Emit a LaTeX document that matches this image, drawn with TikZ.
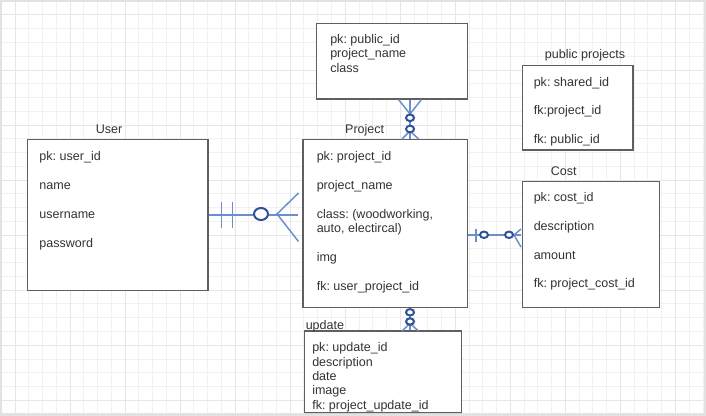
\documentclass[tikz,border=0pt]{standalone}
\usepackage{fontspec}
\setmainfont{Liberation Sans}
\usetikzlibrary{calc,fit,shadows}
\frenchspacing
\definecolor{txt}{HTML}{333333}
\definecolor{bord}{HTML}{5F5F5F}
\definecolor{lnblue}{HTML}{6C8ECD}
\definecolor{cblue}{HTML}{2F5296}
\definecolor{gminor}{HTML}{F1F1F1}
\definecolor{gmajor}{HTML}{E6E6E6}
\definecolor{framec}{HTML}{E2E2E2}
\tikzset{
  box/.style={draw=bord, line width=0.9pt, fill=white, inner sep=0pt,
    drop shadow={shadow xshift=0.6pt, shadow yshift=-0.6pt, opacity=0.15}},
  lbl/.style={font=\fontsize{9.4}{11}\selectfont, text=txt, inner sep=0pt, anchor=base west},
  ttl/.style={lbl, anchor=base},
  conn/.style={draw=lnblue, line width=1.1pt},
  zero/.style={draw=cblue, line width=1.5pt},
}
\begin{document}
\begin{tikzpicture}[x=0.75pt, y=-0.75pt]
\useasboundingbox (0,0) rectangle (706,416);
% background and frame
\fill[framec] (0,0) rectangle (706,416);
\fill[white] (2,2) rectangle (702.5,413);
\foreach \k in {0,...,50}{\draw[gminor, line width=0.75pt] ({15+13.76*\k},2) -- ({15+13.76*\k},413);}
\foreach \k in {0,...,28}{\draw[gminor, line width=0.75pt] (2,{15+13.76*\k}) -- (702.5,{15+13.76*\k});}
\foreach \k in {0,4,...,48}{\draw[gmajor, line width=0.75pt] ({15+13.76*\k},2) -- ({15+13.76*\k},413);}
\foreach \k in {0,4,...,28}{\draw[gmajor, line width=0.75pt] (2,{15+13.76*\k}) -- (702.5,{15+13.76*\k});}

% boxes
\node[box, fit={(27.5,139.3) (208,290.3)}] (user) {};
\node[box, fit={(303,139.3) (467.4,307.3)}] (project) {};
\node[box, fit={(316.5,23.3) (467.4,99)}] (pub) {};
\node[box, fit={(522.3,65.3) (633,150)}] (share) {};
\node[box, fit={(522.3,181.7) (659.2,307.3)}] (cost) {};
\node[box, fit={(304.4,331) (461.5,412.7)}] (upd) {};

% titles
\node[ttl] (tuser) at (109,133.8) {User};
\node[ttl] (tproject) at (364.7,133.8) {Project};
\node[ttl] (tshare) at (585,58.5) {public projects};
\node[ttl] (tcost) at (563.7,175.8) {Cost};
\node[lbl] (tupd) at (305.5,329.5) {update};

% User fields
\node[lbl] (u1) at (39.2,161) {pk: user\_id};
\node[lbl] (u2) at (39.2,189.7) {name};
\node[lbl] (u3) at (39.2,218.4) {username};
\node[lbl] (u4) at (39.2,247.1) {password};

% Project fields
\node[lbl] (p1) at (316.5,161) {pk: project\_id};
\node[lbl] (p2) at (316.5,189.7) {project\_name};
\node[lbl] (p3) at (316.5,218.4) {class: (woodworking,};
\node[lbl] (p4) at (316.5,232.6) {auto, electircal)};
\node[lbl] (p5) at (316.5,261.3) {img};
\node[lbl] (p6) at (316.5,290.2) {fk: user\_project\_id};

% top box fields
\node[lbl] (b1) at (330,43.5) {pk: public\_id};
\node[lbl] (b2) at (330,57.8) {project\_name};
\node[lbl] (b3) at (330,72.1) {class};

% public projects fields
\node[lbl] (s1) at (533.5,86.1) {pk: shared\_id};
\node[lbl] (s2) at (533.5,114.6) {fk:project\_id};
\node[lbl] (s3) at (533.5,143.4) {fk: public\_id};

% Cost fields
\node[lbl] (c1) at (533.5,201.5) {pk: cost\_id};
\node[lbl] (c2) at (533.5,230.4) {description};
\node[lbl] (c3) at (533.5,259.1) {amount};
\node[lbl] (c4) at (533.5,287.8) {fk: project\_cost\_id};

% update fields
\node[lbl] (d1) at (312,351.7) {pk: update\_id};
\node[lbl] (d2) at (312,366) {description};
\node[lbl] (d3) at (312,380.3) {date};
\node[lbl] (d4) at (312,394.6) {image};
\node[lbl] (d5) at (312,409) {fk: project\_update\_id};

% User -- Project
\draw[conn] (user.east) -- ($(user.east -| project.west)+(-4.5,0)$);
\draw[conn] (221.7,201.7) -- (221.7,228.3);
\draw[conn] (232.3,201.7) -- (232.3,228.3);
\draw[conn] (298.5,193) -- (277,214) -- (298.5,241.5);
\draw[zero, fill=white] (261,214) ellipse [x radius=5.25pt, y radius=4.5pt];

% Project -- top box
\coordinate (vx) at (410,0);
\draw[conn] (pub.south -| vx) -- (project.north -| vx);
\draw[conn] (398.5,99.5) -- (410,114) -- (421.5,99.5);
\draw[conn] (402,139) -- (410,131) -- (418.5,139);
\draw[zero, fill=white] (410,117.8) ellipse [x radius=3pt, y radius=2.5pt];
\draw[zero, fill=white] (410,129) ellipse [x radius=3pt, y radius=2.5pt];

% Project -- Cost
\coordinate (hy) at (0,235);
\draw[conn] (project.east |- hy) -- ($(cost.west |- hy)+(-1,0)$);
\draw[conn] (476,229) -- (476,241.7);
\draw[conn] (521,229) -- (514,235) -- (521,247);
\draw[zero, fill=white] (484,234.8) ellipse [x radius=3pt, y radius=2.4pt];
\draw[zero, fill=white] (509,234.8) ellipse [x radius=3pt, y radius=2.4pt];

% Project -- update
\draw[conn] (project.south -| vx) -- (upd.north -| vx);
\draw[conn] (402,331) -- (410,323.5) -- (418.5,331);
\draw[zero, fill=white] (410,312.3) ellipse [x radius=3pt, y radius=2.4pt];
\draw[zero, fill=white] (410,321.5) ellipse [x radius=3pt, y radius=2.4pt];
\end{tikzpicture}
\end{document}
